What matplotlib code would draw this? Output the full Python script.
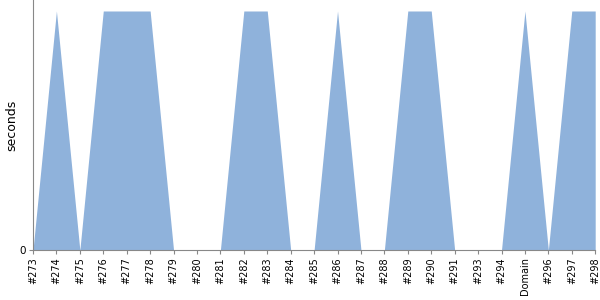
import matplotlib
matplotlib.use("Agg")
import matplotlib.pyplot as plt

# builds on the x axis, one build per point
builds = ["#273", "#274", "#275", "#276", "#277", "#278", "#279", "#280",
          "#281", "#282", "#283", "#284", "#285", "#286", "#287", "#288",
          "#289", "#290", "#291", "#293", "#294", "Domain", "#296", "#297",
          "#298"]
seconds = [0, 1, 0, 1, 1, 1, 0, 0,
           0, 1, 1, 0, 0, 1, 0, 0,
           1, 1, 0, 0, 0, 1, 0, 1,
           1]

fig = plt.figure(figsize=(6, 3), dpi=100)
ax = fig.add_axes([0.055, 0.1667, 0.937, 0.8333])

x = list(range(len(builds)))
ax.fill_between(x, seconds, 0, color="#8fb2db", linewidth=0)

ax.set_xlim(0, len(builds) - 1)
ax.set_ylim(0, 1.046)
ax.set_xticks(x)
ax.set_xticklabels(builds, rotation=90, fontsize=7)
ax.set_yticks([0])
ax.set_yticklabels(["0"], fontsize=7.5)
ax.set_ylabel("seconds", fontsize=9, labelpad=1)

for side in ("top", "right"):
    ax.spines[side].set_visible(False)
for side in ("left", "bottom"):
    ax.spines[side].set_color("#888888")
ax.tick_params(axis="both", colors="#888888", labelcolor="black", length=3, pad=2)

fig.savefig("out.png", dpi=100)
